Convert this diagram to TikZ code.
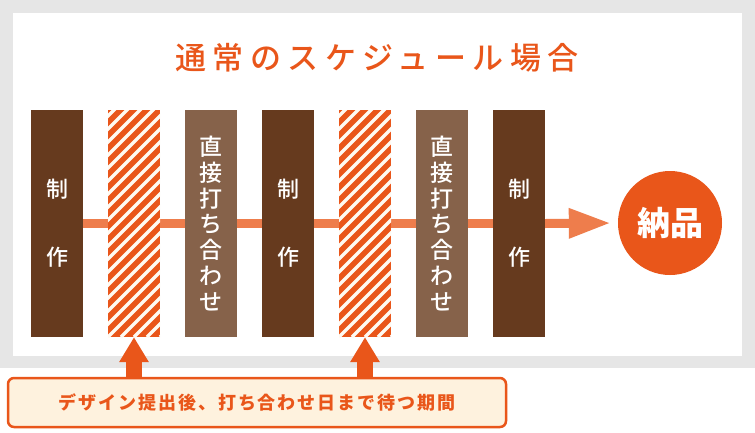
\documentclass[tikz,border=0pt]{standalone}
\usepackage{fontspec}
\newfontfamily\jp{Noto Sans CJK JP}
\newfontfamily\jpm{Noto Sans CJK JP Medium}
\usetikzlibrary{arrows.meta,backgrounds}
\definecolor{darkbrown}{HTML}{663A1E}
\definecolor{lightbrown}{HTML}{86624A}
\definecolor{mainorange}{HTML}{E9561A}
\definecolor{lineorange}{HTML}{EE7D4C}
\definecolor{framegray}{HTML}{E6E6E6}
\definecolor{cream}{HTML}{FEF2DE}
\tikzset{
  bar/.style={minimum width=52pt,minimum height=227pt,inner sep=0pt,text=white,align=center},
  makebar/.style={bar,fill=darkbrown,font=\jpm\fontsize{22}{68}\selectfont},
  meetbar/.style={bar,fill=lightbrown,font=\jpm\fontsize{23}{25.7}\selectfont},
  waitbar/.style={bar,fill=mainorange,path picture={
      \foreach \i in {-19,...,4}
        \draw[cream!40!white,line width=3.5pt]
          ([xshift=\i*13pt]path picture bounding box.south west) -- ++(240pt,240pt);}},
  flow/.style={draw=lineorange,line width=9pt},
  uparrow/.style={draw=mainorange,line width=16pt,-{Triangle[length=25pt,width=28pt]}}
}
\begin{document}
\begin{tikzpicture}[x=1pt,y=-1pt]
  \useasboundingbox (0,0) rectangle (755,432);
  \node (title)[text=mainorange,font=\jpm\fontsize{31}{31}\selectfont\addfontfeature{LetterSpace=21}] at (377,58){通常のスケジュール場合};
  \node (m1)[makebar] at (57,223.5){制\\作};
  \node (h1)[waitbar] at (134,223.5){};
  \node (d1)[meetbar] at (211,223.5){直\\接\\打\\ち\\合\\わ\\せ};
  \node (m2)[makebar] at (288,223.5){制\\作};
  \node (h2)[waitbar] at (365,223.5){};
  \node (d2)[meetbar] at (442,223.5){直\\接\\打\\ち\\合\\わ\\せ};
  \node (m3)[makebar] at (519,223.5){制\\作};
  \node (nohin)[circle,fill=mainorange,minimum size=104pt,inner sep=0pt,text=white,font=\jp\bfseries\fontsize{33}{33}\selectfont] at (670,223){納品};
  \node (note)[draw=mainorange,line width=2.5pt,fill=cream,rounded corners=6pt,minimum width=498pt,minimum height=49pt,inner sep=0pt,text=mainorange,font=\jp\bfseries\fontsize{18}{18}\selectfont\addfontfeature{LetterSpace=11}] at (257,402.5){デザイン提出後、打ち合わせ日まで待つ期間};
  \begin{scope}[on background layer]
    \fill[framegray] (0,0) rectangle (755,368);
    \fill[white] (13,13) rectangle (742,356);
    \draw[flow] (m1) -- (m3);
  \end{scope}
  \draw[flow,-{Triangle[length=42pt,width=28pt]},shorten >=7pt] (m3.east) -- (nohin.west);
  \draw[uparrow] (h1.south |- note.north) -- (h1.south);
  \draw[uparrow] (h2.south |- note.north) -- (h2.south);
\end{tikzpicture}
\end{document}
